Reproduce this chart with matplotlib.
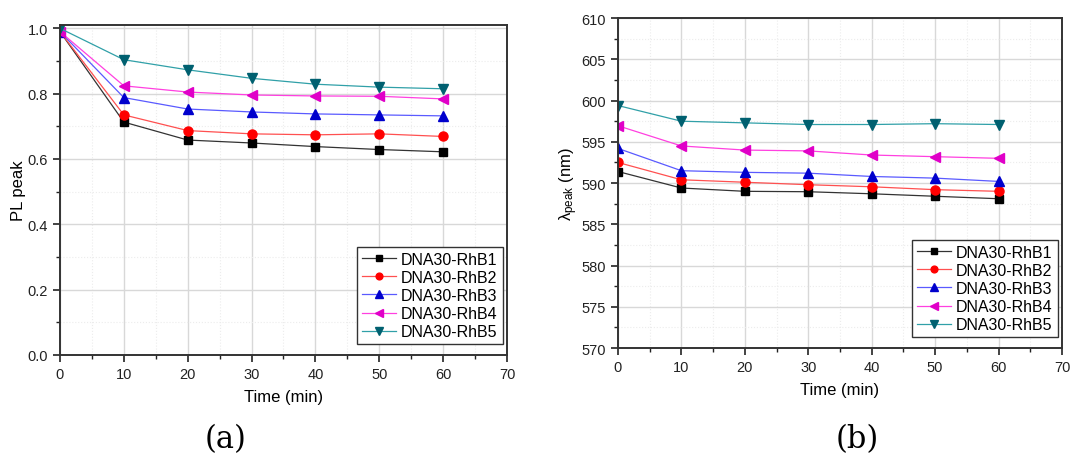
import matplotlib.pyplot as plt
from matplotlib.ticker import MultipleLocator

plt.rcParams['font.family'] = ['Liberation Sans', 'DejaVu Sans']
plt.rcParams['mathtext.default'] = 'regular'

# data
time = [0, 10, 20, 30, 40, 50, 60]
labels = ['DNA30-RhB1', 'DNA30-RhB2', 'DNA30-RhB3', 'DNA30-RhB4', 'DNA30-RhB5']

pl_peak = [
    [0.99, 0.713, 0.658, 0.649, 0.638, 0.629, 0.622],
    [0.99, 0.735, 0.687, 0.677, 0.674, 0.677, 0.669],
    [0.99, 0.788, 0.753, 0.744, 0.738, 0.735, 0.732],
    [0.99, 0.824, 0.805, 0.796, 0.793, 0.792, 0.784],
    [1.00, 0.904, 0.873, 0.847, 0.829, 0.820, 0.815],
]
lam_peak = [
    [591.4, 589.4, 589.0, 588.95, 588.7, 588.4, 588.1],
    [592.5, 590.4, 590.1, 589.8, 589.55, 589.2, 589.0],
    [594.2, 591.5, 591.3, 591.2, 590.8, 590.6, 590.2],
    [596.95, 594.5, 594.0, 593.9, 593.4, 593.2, 593.0],
    [599.4, 597.5, 597.3, 597.1, 597.1, 597.2, 597.1],
]

# styles
mcolors = ['#000000', '#ff0000', '#0000cc', '#e000c8', '#006070']
lcolors = ['#333333', '#ff5050', '#5a5aff', '#ff40e0', '#30a0a8']
markers = ['s', 'o', '^', '<', 'v']
msizes = [5.5, 6.5, 7, 7, 7]

fig = plt.figure(figsize=(10.71, 4.64), dpi=100)
ax1 = fig.add_axes([0.056, 0.2328, 0.4174, 0.711])
ax2 = fig.add_axes([0.577, 0.2478, 0.4146, 0.711])


def style_axes(ax):
    ax.set_xlim(0, 70)
    ax.xaxis.set_major_locator(MultipleLocator(10))
    ax.xaxis.set_minor_locator(MultipleLocator(5))
    ax.grid(which='major', color='#d8d8d8', linewidth=1.0)
    ax.grid(which='minor', color='#ececec', linewidth=0.8, linestyle=':')
    ax.set_axisbelow(True)
    for s in ax.spines.values():
        s.set_color('#333333')
        s.set_linewidth(1.4)
    ax.tick_params(which='both', direction='out', top=False, right=False,
                   colors='#222222', labelsize=10.5)
    ax.tick_params(which='major', length=5, width=1.2)
    ax.tick_params(which='minor', length=3, width=1.0)
    ax.set_xlabel('Time (min)', fontsize=12, labelpad=6)
    ax.legend(loc='lower right', bbox_to_anchor=(0.99, 0.033), fontsize=11.5,
              fancybox=False, edgecolor='#333333', framealpha=1, markerscale=0.75,
              handlelength=2.1, borderpad=0.3, labelspacing=0.2,
              handletextpad=0.35, borderaxespad=0)


for i in range(5):
    ax1.plot(time, pl_peak[i], color=lcolors[i], linewidth=0.9, marker=markers[i],
             markersize=msizes[i], markerfacecolor=mcolors[i], markeredgecolor=mcolors[i],
             label=labels[i])
    ax2.plot(time, lam_peak[i], color=lcolors[i], linewidth=0.9, marker=markers[i],
             markersize=msizes[i], markerfacecolor=mcolors[i], markeredgecolor=mcolors[i],
             label=labels[i])

ax1.set_ylim(0, 1.01)
ax1.yaxis.set_major_locator(MultipleLocator(0.2))
ax1.yaxis.set_minor_locator(MultipleLocator(0.1))
ax1.set_ylabel('PL peak', fontsize=12, labelpad=1)
style_axes(ax1)

ax2.set_ylim(570, 610)
ax2.yaxis.set_major_locator(MultipleLocator(5))
ax2.yaxis.set_minor_locator(MultipleLocator(2.5))
ax2.set_ylabel(r'$\lambda_{peak}$ (nm)', fontsize=12, labelpad=1)
style_axes(ax2)

fig.text(226 / 1071, 1 - 440 / 464, '(a)', family='DejaVu Serif', fontsize=22,
         ha='center', va='center')
fig.text(857 / 1071, 1 - 440 / 464, '(b)', family='DejaVu Serif', fontsize=22,
         ha='center', va='center')

plt.savefig('out.png', dpi=100)
